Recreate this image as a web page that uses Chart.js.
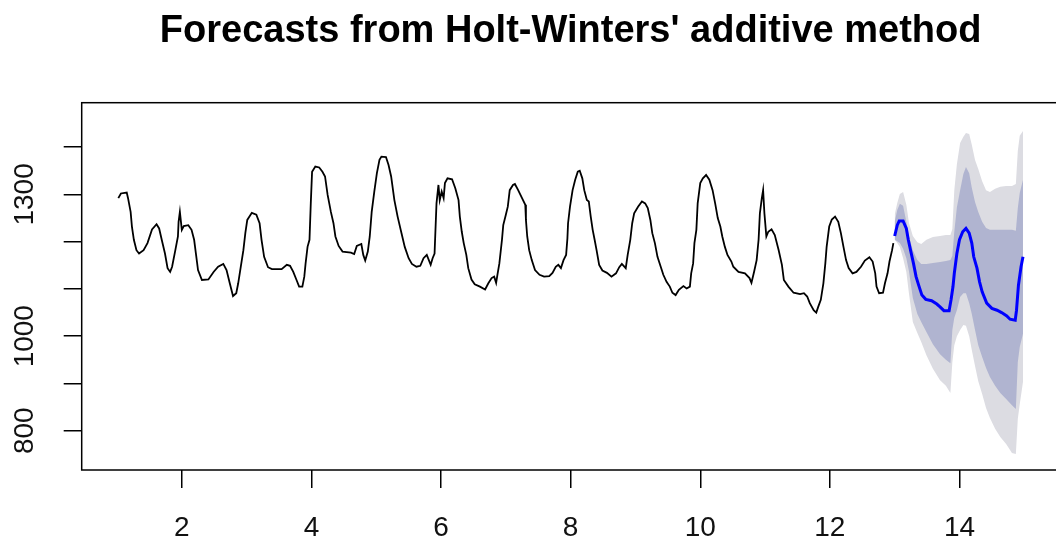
<!DOCTYPE html>
<html lang="en">
<head>
<meta charset="UTF-8">
<title>Forecasts from Holt-Winters' additive method</title>
<script src="https://cdn.jsdelivr.net/npm/chart.js"></script>
<style>
  html, body { margin: 0; padding: 0; background: #fff; overflow: hidden; }
  canvas { display: block; }
</style>
</head>
<body>
<canvas id="hw" width="1066" height="542"></canvas>
<script>
// observed series (time in years, value)
const histX = [
  1.02,1.06,1.15,1.17,1.21,1.23,1.26,1.30,1.34,1.41,
  1.47,1.54,1.61,1.65,1.69,1.74,1.78,1.82,1.85,1.90,
  1.94,1.95,1.97,2.00,2.03,2.10,2.15,2.19,2.22,2.25,
  2.31,2.41,2.49,2.56,2.64,2.69,2.74,2.79,2.84,2.87,
  2.91,2.95,2.98,3.01,3.08,3.15,3.20,3.23,3.27,3.33,
  3.39,3.54,3.62,3.67,3.72,3.77,3.81,3.86,3.89,3.91,
  3.94,3.97,3.99,4.01,4.06,4.12,4.17,4.21,4.25,4.30,
  4.34,4.37,4.42,4.48,4.61,4.66,4.70,4.77,4.80,4.83,
  4.87,4.90,4.93,4.97,5.01,5.05,5.08,5.15,5.19,5.23,
  5.28,5.33,5.39,5.44,5.50,5.55,5.62,5.68,5.73,
  5.78,5.84,5.87,5.90,5.91,5.93,5.96,5.98,6.01,6.04,
  6.06,6.10,6.17,6.22,6.27,6.29,6.32,6.35,6.39,6.42,
  6.47,6.52,6.60,6.68,6.73,6.78,6.82,6.85,6.87,6.90,
  6.94,6.96,7.00,7.03,7.06,7.11,7.14,7.19,7.25,7.30,
  7.31,7.33,7.36,7.40,7.45,7.52,7.59,7.67,7.72,7.77,
  7.81,7.85,7.89,7.93,7.95,7.96,7.99,8.03,8.07,
  8.11,8.14,8.18,8.21,8.25,8.28,8.31,8.34,8.37,8.40,
  8.44,8.49,8.56,8.63,8.70,8.75,8.79,8.85,8.88,8.92,
  8.95,8.98,9.04,9.10,9.15,9.19,9.23,9.26,9.30,9.34,
  9.39,9.43,9.48,9.53,9.57,9.62,9.67,9.74,9.79,9.84,
  9.86,9.89,9.91,9.94,9.96,10.00,10.04,10.09,10.14,10.19,
  10.23,10.27,10.31,10.34,10.38,10.42,10.48,
  10.51,10.59,10.69,10.76,10.79,10.83,10.87,10.90,10.92,10.95,
  10.97,10.99,11.02,11.05,11.10,11.15,11.21,11.26,11.29,11.36,
  11.44,11.54,11.60,11.65,11.69,11.75,11.79,11.82,11.86,11.90,
  11.93,11.95,11.99,12.03,12.08,12.13,12.17,12.21,12.25,12.29,
  12.35,12.41,12.48,12.54,12.61,12.66,12.70,12.72,12.76,12.82,
  12.85,12.89,12.92,12.96,12.98
];
const histY = [
  1292,1302,1304,1292,1263,1232,1204,1182,1175,1182,
  1197,1226,1237,1228,1204,1175,1144,1136,1147,1182,
  1211,1242,1263,1225,1233,1235,1225,1204,1172,1140,
  1119,1120,1136,1147,1153,1140,1112,1085,1091,1112,
  1147,1182,1218,1246,1261,1257,1239,1204,1168,1146,
  1142,1142,1151,1149,1136,1119,1105,1105,1126,1154,
  1189,1204,1281,1348,1359,1357,1348,1338,1299,1263,
  1239,1211,1191,1179,1177,1174,1191,1195,1172,1160,
  1179,1211,1263,1306,1345,1373,1380,1379,1362,1338,
  1288,1253,1218,1189,1165,1153,1147,1149,1165,
  1172,1151,1165,1175,1211,1281,1320,1288,1306,1292,
  1324,1334,1332,1313,1288,1253,1221,1197,1172,1144,
  1120,1110,1105,1099,1112,1123,1126,1113,1130,1154,
  1204,1235,1257,1274,1309,1320,1322,1309,1292,1278,
  1246,1211,1182,1161,1140,1130,1126,1127,1134,1147,
  1151,1144,1161,1172,1207,1239,1274,1309,1331,
  1348,1350,1334,1309,1288,1285,1253,1225,1204,1182,
  1151,1139,1134,1126,1133,1146,1153,1144,1172,1204,
  1239,1260,1274,1285,1281,1271,1246,1218,1197,1168,
  1147,1130,1115,1105,1092,1087,1098,1106,1101,1105,
  1133,1154,1197,1225,1281,1324,1334,1341,1331,1309,
  1281,1250,1232,1211,1189,1172,1158,
  1147,1136,1133,1123,1113,1136,1161,1204,1260,1292,
  1309,1260,1211,1221,1226,1214,1182,1151,1119,1105,
  1092,1089,1091,1084,1070,1055,1050,1062,1077,1112,
  1154,1189,1232,1247,1253,1242,1218,1189,1161,1144,
  1133,1136,1147,1160,1167,1158,1133,1105,1091,1092,
  1112,1133,1158,1182,1197
];

// point forecast
const fcX = [
  13.00,13.04,13.07,13.13,13.18,13.21,13.25,13.29,13.33,13.37,
  13.42,13.48,13.57,13.65,13.70,13.76,13.84,13.87,13.90,13.92,
  13.96,14.00,14.05,14.10,14.15,14.19,14.22,14.27,14.31,14.35,
  14.42,14.50,14.58,14.65,14.73,14.78,14.86,14.88,14.91,14.95,14.98
];
const fcY = [
  1212,1235,1244,1244,1228,1204,1179,1154,1126,1108,
  1087,1078,1075,1068,1062,1054,1054,1077,1105,1133,
  1175,1204,1221,1228,1218,1197,1168,1144,1115,1094,
  1070,1059,1055,1050,1043,1036,1034,1055,1108,1147,1168
];

// prediction intervals
const bandX = [
  13.00,13.04,13.08,13.13,13.18,13.22,13.28,13.35,13.41,13.49,
  13.59,13.70,13.79,13.86,13.89,13.92,13.96,14.01,14.06,14.10,
  14.15,14.19,14.24,14.29,14.35,14.41,14.47,14.55,14.63,14.72,
  14.81,14.87,14.90,14.93,14.98
];
const hi95 = [
  1257,1282,1301,1305,1278,1240,1212,1199,1195,1204,
  1210,1212,1214,1214,1227,1309,1364,1409,1422,1430,
  1428,1405,1373,1354,1328,1309,1305,1312,1316,1318,
  1318,1322,1392,1424,1434
];
const hi80 = [
  1242,1267,1280,1276,1242,1212,1182,1161,1153,1153,
  1155,1157,1159,1161,1170,1221,1273,1309,1343,1358,
  1345,1314,1284,1263,1242,1229,1225,1225,1225,1225,
  1225,1223,1271,1303,1331
];
const lo80 = [
  1204,1201,1197,1185,1165,1138,1081,1047,1030,1009,
  983,962,950,943,1013,1039,1055,1083,1091,1091,
  1070,1047,1013,981,956,933,914,895,880,867,
  854,846,945,977,1005
];
const lo95 = [
  1204,1197,1189,1165,1136,1091,1030,1007,988,960,
  931,907,895,880,945,981,1000,1013,1024,1022,
  1000,971,937,905,878,848,827,804,787,772,
  753,751,825,856,903
];

const xTicks = [2, 4, 6, 8, 10, 12, 14];
const yTicks = [800, 900, 1000, 1100, 1200, 1300, 1400];
const yLabels = [800, 1000, 1300];   // R drops the labels that would overlap
const chartTitle = "Forecasts from Holt-Winters' additive method";

const FONT = '"Liberation Sans", Arial, Helvetica, sans-serif';

function pts(xs, ys) {
  return xs.map((x, i) => ({ x: x, y: ys[i] }));
}

// box around the plot, title and the rotated y labels, R style
const frame = {
  id: 'frame',
  afterDraw(chart) {
    const ctx = chart.ctx;
    const a = chart.chartArea;
    const y = chart.scales.y;
    ctx.save();
    ctx.strokeStyle = '#000';
    ctx.lineWidth = 1.5;
    ctx.strokeRect(a.left, a.top, a.right - a.left, a.bottom - a.top);

    ctx.fillStyle = '#000';
    ctx.font = 'bold 38px ' + FONT;
    ctx.textAlign = 'center';
    ctx.textBaseline = 'alphabetic';
    ctx.fillText(chartTitle, (a.left + a.right) / 2, 42);

    ctx.fillStyle = '#111';
    ctx.font = '28px ' + FONT;
    yLabels.forEach(v => {
      ctx.save();
      ctx.translate(a.left - 49, y.getPixelForValue(v));
      ctx.rotate(-Math.PI / 2);
      ctx.fillText(String(v), 0, 0);
      ctx.restore();
    });
    ctx.restore();
  }
};

const tickGrid = {
  drawOnChartArea: false,
  drawTicks: true,
  tickLength: 18,
  color: '#000',
  lineWidth: 1.5
};

new Chart(document.getElementById('hw'), {
  type: 'line',
  data: {
    datasets: [
      { data: pts(fcX, fcY), borderColor: '#0000ff', borderWidth: 3, pointRadius: 0, fill: false },
      { data: pts(histX, histY), borderColor: '#000000', borderWidth: 1.8, pointRadius: 0, fill: false },
      { data: pts(bandX, hi80), borderColor: 'transparent', borderWidth: 0, pointRadius: 0,
        backgroundColor: '#b0b4d0', fill: 3 },
      { data: pts(bandX, lo80), borderColor: 'transparent', borderWidth: 0, pointRadius: 0, fill: false },
      { data: pts(bandX, hi95), borderColor: 'transparent', borderWidth: 0, pointRadius: 0,
        backgroundColor: '#dcdce2', fill: 5 },
      { data: pts(bandX, lo95), borderColor: 'transparent', borderWidth: 0, pointRadius: 0, fill: false }
    ]
  },
  options: {
    responsive: false,
    animation: false,
    layout: { padding: { left: 0, right: 6.4, top: 102.7, bottom: 0 } },
    plugins: {
      legend: { display: false },
      tooltip: { enabled: false },
      title: { display: false }
    },
    scales: {
      x: {
        type: 'linear',
        min: 0.455,
        max: 15.545,
        afterFit(s) { s.height = 72; },
        afterBuildTicks(s) { s.ticks = xTicks.map(v => ({ value: v })); },
        grid: tickGrid,
        border: { display: false },
        ticks: {
          padding: 23,
          color: '#111',
          maxRotation: 0,
          autoSkip: false,
          font: { family: FONT, size: 28 }
        }
      },
      y: {
        type: 'linear',
        min: 717,
        max: 1494,
        afterFit(s) { s.width = 81.7; },
        afterBuildTicks(s) { s.ticks = yTicks.map(v => ({ value: v })); },
        grid: tickGrid,
        border: { display: false },
        ticks: { display: false }
      }
    }
  },
  plugins: [frame]
});
</script>
</body>
</html>
